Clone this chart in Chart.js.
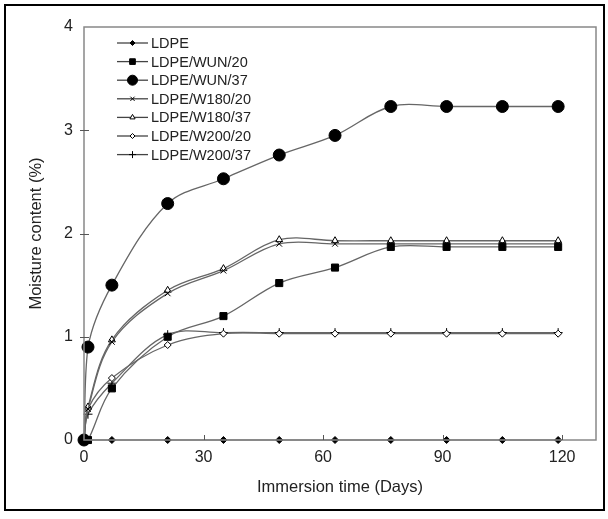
<!DOCTYPE html>
<html>
<head>
<meta charset="utf-8">
<title>Moisture content</title>
<script src="https://cdn.jsdelivr.net/npm/chart.js@4.4.1/dist/chart.umd.min.js"></script>
<style>
  html, body { margin: 0; padding: 0; background: #fff; }
  #wrap { position: relative; width: 608px; height: 519px; }
</style>
</head>
<body>
<div id="wrap"><canvas id="moistureChart" width="608" height="519"></canvas></div>
<script>
// immersion days
const days = [0, 1, 7, 21, 35, 49, 63, 77, 91, 105, 119];

// moisture content (%)
const ldpe = [0, 0, 0, 0, 0, 0, 0, 0, 0, 0, 0];
const wun20 = [0, 0, 0.5, 1.0, 1.2, 1.52, 1.67, 1.87, 1.87, 1.87, 1.87];
const wun37 = [0, 0.9, 1.5, 2.29, 2.53, 2.76, 2.95, 3.23, 3.23, 3.23, 3.23];
const w180_20 = [0, 0.3, 0.95, 1.42, 1.64, 1.9, 1.9, 1.9, 1.9, 1.9, 1.9];
const w180_37 = [0, 0.32, 0.97, 1.45, 1.66, 1.94, 1.93, 1.93, 1.93, 1.93, 1.93];
const w200_20 = [0, 0.3, 0.6, 0.92, 1.03, 1.03, 1.03, 1.03, 1.03, 1.03, 1.03];
const w200_37 = [0, 0.25, 0.55, 1.02, 1.04, 1.04, 1.04, 1.04, 1.04, 1.04, 1.04];

const xTicks = [0, 30, 60, 90, 120];
const yTicks = [0, 1, 2, 3, 4];

const toPoints = (vals) => vals.map((v, i) => ({ x: days[i], y: v }));

const series = (label, vals, style, radius, fill) => ({
  label: label,
  data: toPoints(vals),
  borderColor: "#666",
  borderWidth: 1.3,
  tension: 0.35,
  pointStyle: style,
  pointRadius: radius,
  pointHoverRadius: radius,
  pointBackgroundColor: fill,
  pointBorderColor: "#000",
  pointBorderWidth: 1,
  clip: false,
});

// legend drawn inside the plot, plus frame and inward ticks
const frameAndLegend = {
  id: "frameAndLegend",
  afterDraw(chart) {
    const ctx = chart.ctx;
    const area = chart.chartArea;
    const xs = chart.scales.x;
    const ys = chart.scales.y;
    ctx.save();

    ctx.strokeStyle = "#000";
    ctx.lineWidth = 2;
    ctx.strokeRect(5, 5, 599, 505);

    ctx.strokeStyle = "#888";
    ctx.lineWidth = 1.5;
    ctx.strokeRect(area.left, area.top, area.right - area.left, area.bottom - area.top);

    ctx.strokeStyle = "#555";
    ctx.lineWidth = 1;
    ctx.beginPath();
    xTicks.slice(1).forEach((t) => {
      const px = Math.round(xs.getPixelForValue(t)) + 0.5;
      ctx.moveTo(px, area.bottom);
      ctx.lineTo(px, area.bottom - 5);
    });
    yTicks.slice(1, -1).forEach((t) => {
      const py = Math.round(ys.getPixelForValue(t)) + 0.5;
      ctx.moveTo(area.left - 4, py);
      ctx.lineTo(area.left + 5, py);
    });
    ctx.stroke();

    chart.data.datasets.forEach((ds, i) => {
      const y = 43 + i * 18.6;
      ctx.strokeStyle = "#444";
      ctx.lineWidth = 1.3;
      ctx.beginPath();
      ctx.moveTo(117, y);
      ctx.lineTo(148, y);
      ctx.stroke();
      ctx.fillStyle = ds.pointBackgroundColor;
      ctx.strokeStyle = "#000";
      ctx.lineWidth = 1;
      Chart.helpers.drawPoint(ctx, {
        pointStyle: ds.pointStyle,
        radius: Math.max(ds.pointRadius - 1, 2.5),
        rotation: 0,
        borderWidth: 1,
      }, 132.5, y);
      ctx.fillStyle = "#222";
      ctx.font = "14.5px 'Liberation Sans', Arial, sans-serif";
      ctx.textAlign = "left";
      ctx.textBaseline = "middle";
      ctx.fillText(ds.label, 151, y + 1);
    });
    ctx.restore();
  },
};

const tickFont = { family: "'Liberation Sans', Arial, sans-serif", size: 16 };
const titleFont = { family: "'Liberation Sans', Arial, sans-serif", size: 16.5 };

new Chart(document.getElementById("moistureChart"), {
  type: "line",
  data: {
    datasets: [
      series("LDPE", ldpe, "rectRot", 3.5, "#000"),
      series("LDPE/WUN/20", wun20, "rect", 5, "#000"),
      series("LDPE/WUN/37", wun37, "circle", 6, "#000"),
      series("LDPE/W180/20", w180_20, "crossRot", 4, "#000"),
      series("LDPE/W180/37", w180_37, "triangle", 4, "#fff"),
      series("LDPE/W200/20", w200_20, "rectRot", 3.5, "#fff"),
      series("LDPE/W200/37", w200_37, "cross", 4.5, "#000"),
    ],
  },
  options: {
    responsive: false,
    animation: false,
    layout: { padding: { left: 0, top: 27, right: 12, bottom: 0 } },
    plugins: {
      legend: { display: false },
      tooltip: { enabled: false },
    },
    scales: {
      x: {
        type: "linear",
        min: 0,
        max: 128.5,
        afterBuildTicks: (scale) => {
          scale.ticks = xTicks.map((v) => ({ value: v }));
        },
        afterFit: (scale) => {
          scale.height = 79;
        },
        grid: { display: false, drawTicks: false },
        border: { display: false },
        ticks: { font: tickFont, color: "#222", padding: 8, maxRotation: 0 },
        title: {
          display: true,
          text: "Immersion time (Days)",
          font: titleFont,
          color: "#222",
          padding: { top: 0, bottom: 22 },
        },
      },
      y: {
        min: 0,
        max: 4,
        afterBuildTicks: (scale) => {
          scale.ticks = yTicks.map((v) => ({ value: v }));
        },
        afterFit: (scale) => {
          scale.width = 84;
        },
        grid: { display: false, drawTicks: false },
        border: { display: false },
        ticks: { font: tickFont, color: "#222", padding: 11 },
        title: {
          display: true,
          text: "Moisture content (%)",
          font: titleFont,
          color: "#222",
          padding: { top: 27, bottom: 0 },
        },
      },
    },
  },
  plugins: [frameAndLegend],
});
</script>
</body>
</html>
